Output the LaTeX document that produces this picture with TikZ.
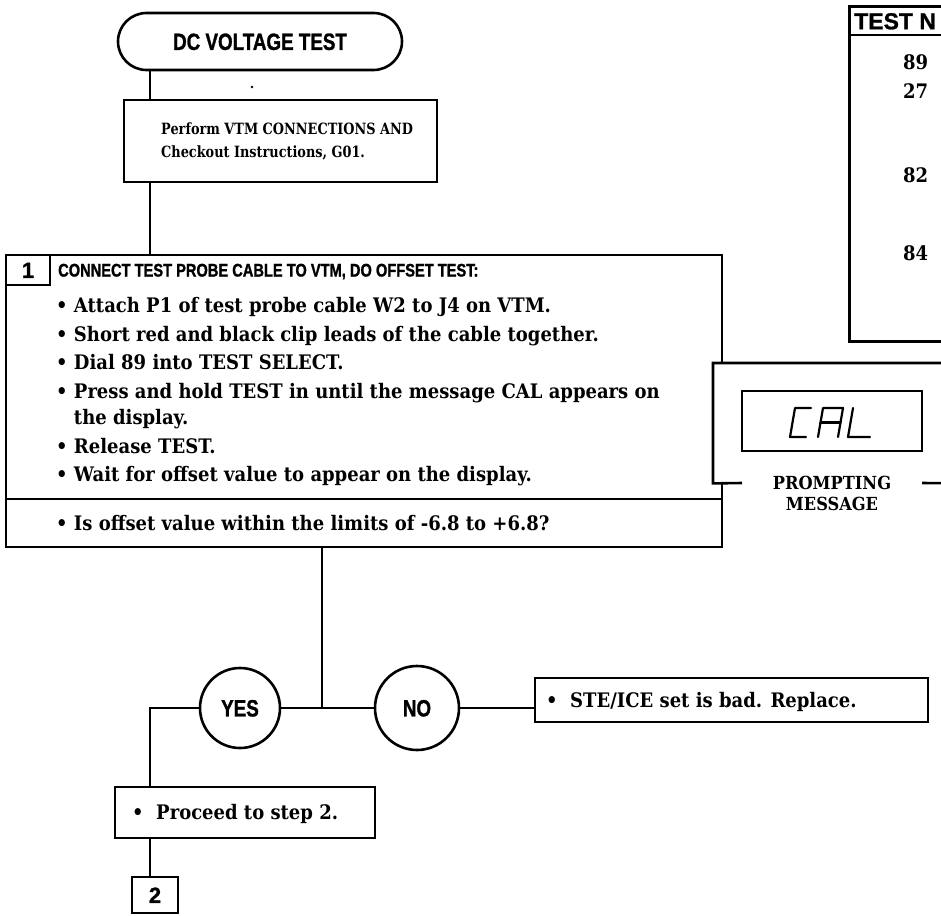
\documentclass[tikz,border=0pt]{standalone}
\usepackage{fontspec}
\setmainfont{DejaVu Serif}[FakeStretch=0.9]
\newfontfamily\narrowserif{DejaVu Serif}[FakeStretch=0.83]
\newfontfamily\hd{Liberation Sans}[FakeStretch=0.8, BoldFeatures={FakeBold=1.2}]
\newfontfamily\hdw{Liberation Sans}[BoldFeatures={FakeBold=1.2}]
\usetikzlibrary{shapes.misc}
\tikzset{
  ln/.style={line width=2.6pt},
  box/.style={draw, ln, rectangle, inner sep=0pt},
  body/.style={font=\bfseries\fontsize{20}{24}\selectfont, inner sep=0pt, anchor=west, text height=15pt, text depth=1pt},
  small/.style={font=\narrowserif\bfseries\fontsize{15.5}{19}\selectfont, inner sep=0pt, anchor=west, text height=11.5pt, text depth=1pt},
  head/.style={font=\hd\bfseries\fontsize{18.3}{22}\selectfont, inner sep=0pt, text height=13.1pt, text depth=0pt},
  numhead/.style={font=\hdw\bfseries\fontsize{22}{26}\selectfont, inner sep=0pt, text height=15.8pt, text depth=0pt},
  bighead/.style={font=\hd\bfseries\fontsize{23.5}{27}\selectfont, inner sep=0pt, text height=16.8pt, text depth=0pt},
  term/.style={draw, ln, rounded rectangle, minimum width=284pt, minimum height=57pt, inner sep=0pt},
  yn/.style={draw, ln, circle, inner sep=0pt},
  seg/.style={line width=2.2pt, line cap=round, line join=round},
  lbl/.style={font=\bfseries\fontsize{18}{22}\selectfont, inner sep=0pt, text height=13pt, text depth=0pt},
}
\begin{document}
\begin{tikzpicture}[x=1pt,y=-1pt]
\useasboundingbox (0,0) rectangle (941,915);
\clip (0,0) rectangle (941,915);
\fill[white] (0,0) rectangle (941,915);

% start terminal
\node[term, bighead] (start) at (260,41.5) {DC VOLTAGE TEST};
\fill (252,87) circle (1.3pt);
\coordinate (x150) at (150,0);

% perform box
\node[box, minimum width=313pt, minimum height=82pt] (perf) at (280.5,141) {};
\node[small] (perf1) at (161,129) {Perform VTM CONNECTIONS AND};
\node[small] (perf2) at (161,152) {Checkout Instructions, G01.};
\draw[ln] (start.south -| x150) -- (perf.north -| x150);

% step 1 box
\node[box, minimum width=716pt, minimum height=292pt] (s1) at (364,401) {};
\draw[ln] (perf.south -| x150) -- (s1.north -| x150);
\node[box, numhead, minimum width=44pt, minimum height=30pt] (n1) at (28,270) {1};
\node[head, anchor=west] (t1) at (58,270) {CONNECT TEST PROBE CABLE TO VTM, DO OFFSET TEST:};
\node[body] (b1) at (56,305) {\textbullet\ Attach P1 of test probe cable W2 to J4 on VTM.};
\node[body] (b2) at (56,334) {\textbullet\ Short red and black clip leads of the cable together.};
\node[body] (b3) at (56,362) {\textbullet\ Dial 89 into TEST SELECT.};
\node[body] (b4) at (56,391) {\textbullet\ Press and hold TEST in until the message CAL appears on};
\node[body] (b4b) at (56,417) {\phantom{\textbullet\ }the display.};
\node[body] (b5) at (56,446) {\textbullet\ Release TEST.};
\node[body] (b6) at (56,474) {\textbullet\ Wait for offset value to appear on the display.};
\coordinate (dv) at (0,499);
\draw[ln] (s1.west |- dv) -- (s1.east |- dv);
\node[body] (q1) at (56,523) {\textbullet\ Is offset value within the limits of -6.8 to +6.8?};

% test number table (cut by the edge)
\node[box, minimum width=120pt, minimum height=335pt, anchor=north west] (tbl) at (848,5) {};
\coordinate (hdl) at (0,35);
\draw[ln] (tbl.west |- hdl) -- (tbl.east |- hdl);
\node[font=\hdw\bfseries\fontsize{23}{26}\selectfont, inner sep=0pt, text height=16.5pt, text depth=0pt, anchor=west] (th) at (854,21) {TEST N};
\node[body] (r89) at (903,63) {89};
\node[body] (r27) at (903,92) {27};
\node[body] (r82) at (903,175) {82};
\node[body] (r84) at (903,253) {84};

% prompting message callout
\node[fill=white, minimum width=250pt, minimum height=120pt, anchor=north west, inner sep=0pt] (call) at (713,363) {};
\draw[ln] (742,483) -- (call.south west) -- (call.north west) -- (call.north east);
\draw[ln] (922,483) -- (call.south east);
\node[box, minimum width=180pt, minimum height=60pt] (disp) at (832,421) {};
\draw[seg] (811,408) -- (795,408) -- (790,437) -- (806,437);
\draw[seg] (818,437) -- (823,408) -- (843,408) -- (838,437);
\draw[seg] (820.5,422.5) -- (840.5,422.5);
\draw[seg] (853,408) -- (848,437) -- (870,437);
\node[lbl] (pm1) at (832,483) {PROMPTING};
\node[lbl] (pm2) at (832,504) {MESSAGE};

% decision
\coordinate (jn) at (322,708);
\draw[ln] (s1.south -| jn) -- (jn);
\node[yn, bighead, minimum size=80pt] (yes) at (240,708) {YES};
\node[yn, bighead, minimum size=84pt] (no) at (417,708) {NO};
\draw[ln] (yes.east) -- (no.west);
\node[box, minimum width=393pt, minimum height=44pt] (ste) at (731.5,700) {};
\draw[ln] (no.east) -- (ste.west |- no.east);
\node[body] (stet) at (546,700) {\textbullet\ \ STE/ICE set is bad. Replace.};

% proceed
\node[box, minimum width=260pt, minimum height=51pt] (proc) at (245,812.5) {};
\draw[ln] (yes.west) -| (proc.north -| x150);
\node[body] (proct) at (132,812) {\textbullet\ \ Proceed to step 2.};
\node[box, numhead, minimum width=46pt, minimum height=36pt] (n2) at (155,895) {2};
\draw[ln] (proc.south -| x150) -- (n2.north -| x150);
\end{tikzpicture}
\end{document}
